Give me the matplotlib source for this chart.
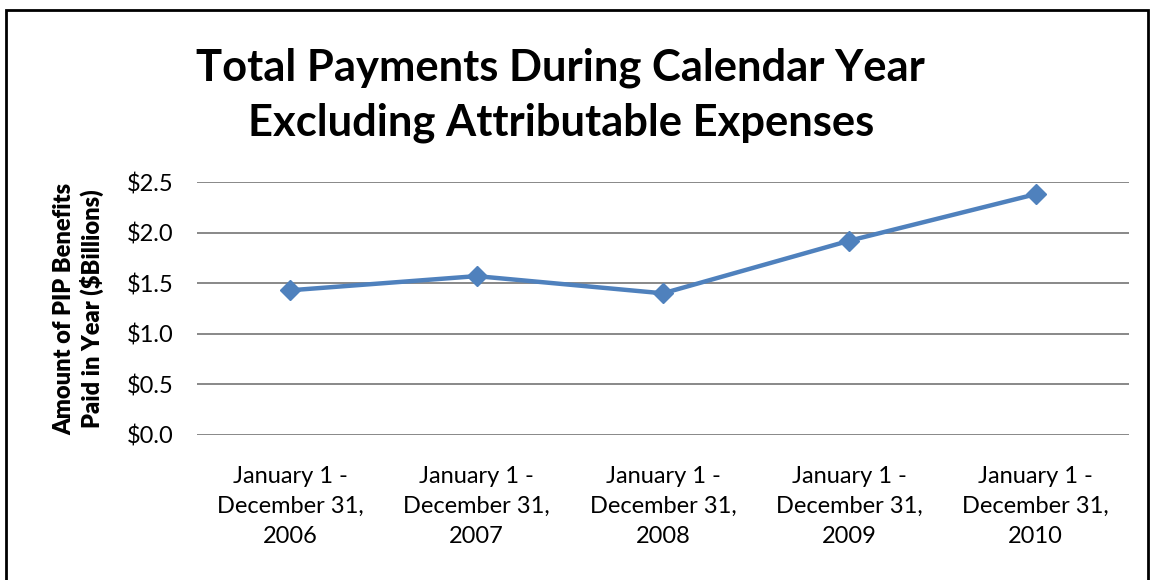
import matplotlib.pyplot as plt
from matplotlib.patches import Rectangle

plt.rcParams["font.family"] = "Lato"

periods = ["January 1 -\nDecember 31,\n2006", "January 1 -\nDecember 31,\n2007",
           "January 1 -\nDecember 31,\n2008", "January 1 -\nDecember 31,\n2009",
           "January 1 -\nDecember 31,\n2010"]
payments = [1.43, 1.57, 1.40, 1.92, 2.38]
y_ticks = [0.0, 0.5, 1.0, 1.5, 2.0, 2.5]
y_tick_labels = ["$0.0", "$0.5", "$1.0", "$1.5", "$2.0", "$2.5"]

fig = plt.figure(figsize=(11.54, 5.8), dpi=100)
ax = fig.add_axes([197 / 1154, 145 / 580, 932 / 1154, 253 / 580])

x = list(range(len(periods)))
ax.plot(x, payments, color="#4F81BD", linewidth=3.2, marker="D", markersize=10,
        zorder=3)

ax.set_xlim(-0.5, len(periods) - 0.5)
ax.set_ylim(0, 2.5)
ax.set_yticks(y_ticks)
ax.set_yticklabels(y_tick_labels, fontsize=17)
ax.set_xticks(x)
ax.set_xticklabels(periods, fontsize=17, linespacing=1.55)
ax.tick_params(axis="both", length=0)
ax.tick_params(axis="y", pad=17)
ax.tick_params(axis="x", pad=22)
ax.grid(axis="y", color="#888888", linewidth=1.4)
ax.set_axisbelow(True)
for s in ax.spines.values():
    s.set_visible(False)

ax.set_ylabel("Amount of PIP Benefits\nPaid in Year ($Billions)", fontsize=17,
              fontweight="heavy", labelpad=16, linespacing=1.25)

fig.text(0.486, 1 - 47 / 580, "Total Payments During Calendar Year\nExcluding Attributable Expenses",
         ha="center", va="top", fontsize=31.3, fontweight="bold", linespacing=1.45)

# outer frame
fig.patches.append(Rectangle((6 / 1154, -0.05), 1142 / 1154, 1.05 - 10 / 580,
                             transform=fig.transFigure, fill=False,
                             edgecolor="black", linewidth=2))

fig.savefig("out.png", dpi=100)
